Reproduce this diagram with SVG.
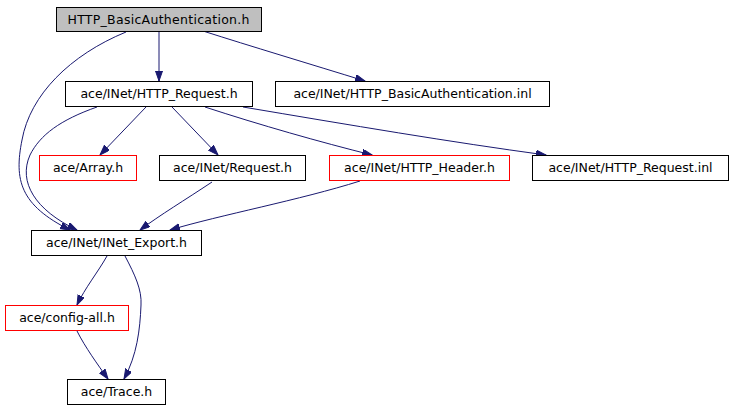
<svg xmlns="http://www.w3.org/2000/svg" width="732" height="411" viewBox="0 0 732 411">
<style>
.n rect{fill:#fff;stroke:#000;stroke-width:1}
.n.red rect{stroke:#ff0000}
.n.root rect{fill:#bfbfbf}
.n text{font-family:"DejaVu Sans",sans-serif;font-size:12.5px;fill:#000;text-anchor:middle}
.e path{fill:none;stroke:#191970;stroke-width:1;marker-end:url(#a)}
</style>
<defs>
<marker id="a" markerUnits="userSpaceOnUse" markerWidth="11" markerHeight="8" refX="10" refY="3.5" orient="auto">
<path d="M0,0 L10,3.5 L0,7 z" fill="#191970" stroke="#191970" stroke-width="1"/>
</marker>
</defs>
<rect width="732" height="411" fill="#fff"/>
<g id="edges" class="e">
<path d="M159,31 L159,81"/>
<path d="M203,31 C250,46 310,64 365,81"/>
<path d="M126,32 C70,55 30,95 22,140 C14,180 20,205 70,230"/>
<path d="M97,107 C60,120 40,135 30,155 C18,182 35,210 77,230"/>
<path d="M146,107 L100,155"/>
<path d="M172,107 L218,155"/>
<path d="M205,107 C260,125 320,142 372,155"/>
<path d="M243,107 C350,125 450,142 546,155"/>
<path d="M212,182 C185,200 160,215 140,230"/>
<path d="M360,181 C300,200 220,215 170,230"/>
<path d="M107,256 C98,272 85,288 77,305"/>
<path d="M125,256 C135,275 142,290 141,305 C140,330 137,355 124,379"/>
<path d="M77,331 C85,347 98,365 108,379"/>
</g>
<g id="n1" class="n root"><rect x="56.5" y="7.5" width="205" height="24"/><text x="158.5" y="24" textLength="182" lengthAdjust="spacing">HTTP_BasicAuthentication.h</text></g>
<g id="n2" class="n"><rect x="65.5" y="81.5" width="187" height="25"/><text x="159" y="98">ace/INet/HTTP_Request.h</text></g>
<g id="n3" class="n"><rect x="275.5" y="81.5" width="274" height="25"/><text x="412.5" y="98">ace/INet/HTTP_BasicAuthentication.inl</text></g>
<g id="n4" class="n red"><rect x="39.5" y="155.5" width="97" height="25"/><text x="88" y="172">ace/Array.h</text></g>
<g id="n5" class="n"><rect x="159.5" y="155.5" width="146" height="25"/><text x="232.5" y="172">ace/INet/Request.h</text></g>
<g id="n6" class="n red"><rect x="329.5" y="155.5" width="180" height="25"/><text x="419.5" y="172">ace/INet/HTTP_Header.h</text></g>
<g id="n7" class="n"><rect x="532.5" y="155.5" width="196" height="25"/><text x="630.5" y="172">ace/INet/HTTP_Request.inl</text></g>
<g id="n8" class="n"><rect x="31.5" y="230.5" width="170" height="25"/><text x="116.5" y="247">ace/INet/INet_Export.h</text></g>
<g id="n9" class="n red"><rect x="5.5" y="305.5" width="123" height="25"/><text x="67" y="322">ace/config-all.h</text></g>
<g id="n10" class="n"><rect x="67.5" y="379.5" width="98" height="25"/><text x="116.5" y="396">ace/Trace.h</text></g>
</svg>
